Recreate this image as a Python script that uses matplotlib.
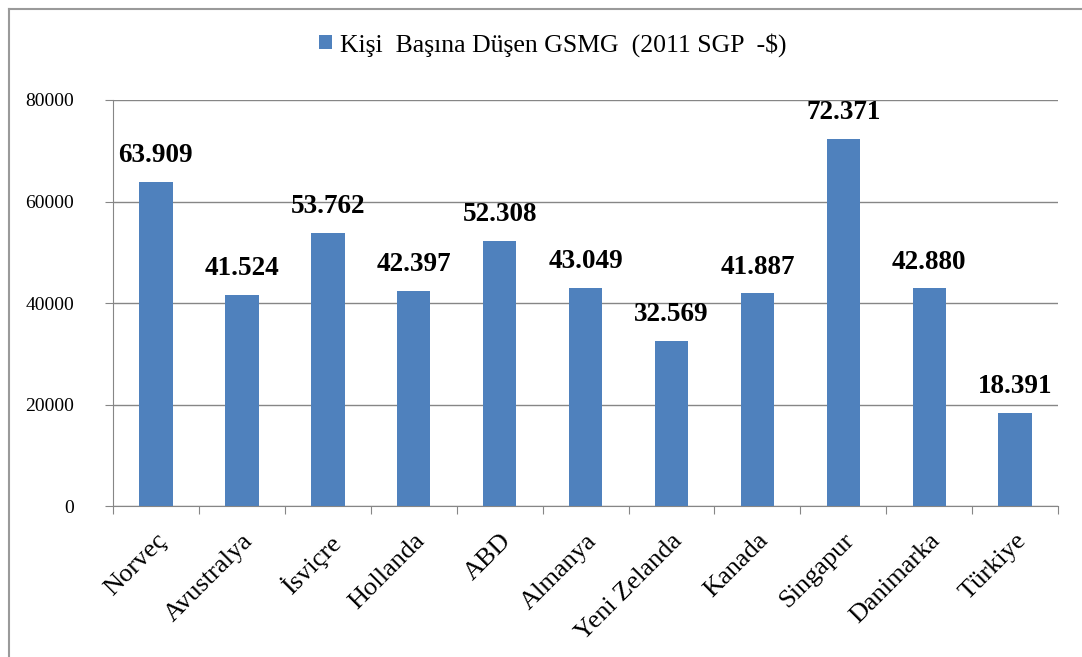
import matplotlib.pyplot as plt
import matplotlib.transforms as mtransforms
import numpy as np
from matplotlib.lines import Line2D

countries = ["Norveç", "Avustralya", "İsviçre", "Hollanda", "ABD", "Almanya",
             "Yeni Zelanda", "Kanada", "Singapur", "Danimarka", "Türkiye"]
values = [63909, 41524, 53762, 42397, 52308, 43049, 32569, 41887, 72371, 42880, 18391]
labels = ["63.909", "41.524", "53.762", "42.397", "52.308", "43.049",
          "32.569", "41.887", "72.371", "42.880", "18.391"]
yticks = [0, 20000, 40000, 60000, 80000]

plt.rcParams['font.family'] = ['Liberation Serif', 'DejaVu Serif']

fig = plt.figure(figsize=(10.82, 6.57), dpi=100)
ax = fig.add_axes([0.1044, 0.2298, 0.8736, 0.618])

x = np.arange(len(countries))
bars = ax.bar(x, values, width=0.39, color="#4F81BD", zorder=3,
              label="Kişi  Başına Düşen GSMG  (2011 SGP  -$)")

for xi, v, lab in zip(x, values, labels):
    ax.annotate(lab, (xi, v), xytext=(0, 10), textcoords="offset points",
                ha="center", va="bottom", fontsize=19.5, fontweight="bold")

ax.set_xlim(-0.5, len(countries) - 0.5)
ax.set_ylim(0, 80000)
ax.set_yticks(yticks)
ax.set_yticklabels([str(t) for t in yticks], fontsize=14)
ax.yaxis.grid(True, color="#868686", linewidth=1, zorder=0)

# x ticks sit between categories, labels centred under bars
ax.set_xticks(np.arange(-0.5, len(countries)), minor=False)
ax.set_xticklabels([])
ax.set_xticks(x, minor=True)
ax.set_xticklabels(countries, minor=True, rotation=45, ha="right",
                   rotation_mode="anchor", fontsize=19)
shift = mtransforms.ScaledTranslation(9 / 100, 0, fig.dpi_scale_trans)
for t in ax.get_xticklabels(minor=True):
    t.set_transform(t.get_transform() + shift)
ax.tick_params(axis="x", which="minor", length=0, pad=17)
ax.tick_params(axis="x", which="major", length=6, color="#868686", direction="out")
ax.tick_params(axis="y", length=6, color="#868686", direction="out", pad=22)

for s in ["top", "right"]:
    ax.spines[s].set_visible(False)
for s in ["left", "bottom"]:
    ax.spines[s].set_color("#868686")

fig.legend(handles=[bars], loc="center", bbox_to_anchor=(0.511, 0.932),
           frameon=False, fontsize=18.5, handlelength=0.5, handleheight=0.5,
           handletextpad=0.3)

# chart frame: only top and left edges visible
fig.lines.append(Line2D([0.008, 1.0], [0.987, 0.987], transform=fig.transFigure,
                        color="#9a9a9a", linewidth=1.5))
fig.lines.append(Line2D([0.008, 0.008], [0.0, 0.987], transform=fig.transFigure,
                        color="#9a9a9a", linewidth=1.5))

fig.savefig("out.png", dpi=100)
